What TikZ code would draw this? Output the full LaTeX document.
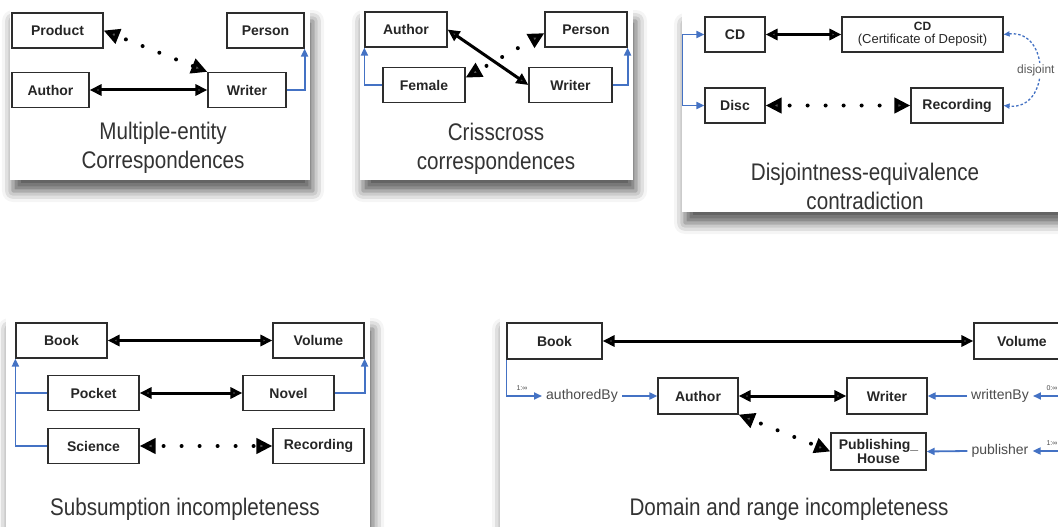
\documentclass[tikz,border=0pt]{standalone}
\usepackage{fontspec}
\setmainfont{Liberation Sans}
\newfontfamily\capfont{Liberation Sans}[FakeStretch=0.86]
\usetikzlibrary{arrows.meta, shadows.blur}
\definecolor{isablue}{RGB}{68,114,196}
\definecolor{rahmen}{RGB}{45,45,45}

\begin{document}
\begin{tikzpicture}[x=1pt, y=-1pt,
		>={Triangle[length=12pt, width=11pt]},   %Pfeilspitzen
		box/.style={draw=rahmen, line width=1.2pt, fill=white, minimum height=35pt, inner sep=2pt, text=black!85, font=\fontsize{14}{14}\selectfont\bfseries},
		equi/.style={<->, line width=3pt},
		dots/.style={{Triangle[length=16pt, width=15pt]}-{Triangle[length=16pt, width=15pt]}, line width=4pt, line cap=round, dash pattern=on 0pt off 18pt, dash phase=9pt},
		isa/.style={-{Triangle[length=8pt, width=7pt]}, draw=isablue, line width=1.8pt},
		prop/.style={inner sep=4pt, text=black!70, font=\fontsize{14}{16}\selectfont},
		card/.style={fill=white, blur shadow={shadow xshift=3pt, shadow yshift=-11pt, shadow blur radius=11pt, shadow opacity=65}},
		mult/.style={inner sep=0pt, text=black!70, font=\fontsize{7}{8}\selectfont},
		titel/.style={align=center, text=black!80, font=\capfont\fontsize{24}{29}\selectfont}]
		\useasboundingbox (0,0) rectangle (1058,527);
		%Karten
		\fill[card] (10,10) rectangle (310,180);
		\fill[card] (360,10) rectangle (633,180);
		\fill[card] (682,13) rectangle (1080,212);
		\fill[card] (6,318) rectangle (370,545);
		\fill[card] (500,318) rectangle (1080,545);
		% Multiple-entity
		\node[box, minimum width=91pt] (prod1) at (57.5,30.5) {Product};
		\node[box, minimum width=77pt] (pers1) at (265.5,30.5) {Person};
		\node[box, minimum width=77pt] (auth1) at (50.5,90) {Author};
		\node[box, minimum width=78pt] (writ1) at (247,90) {Writer};
		\draw[equi] (auth1) -- (writ1);
		\draw[dots] (prod1.east) -- (writ1.north west);
		\draw[isa] (writ1.east) -| (pers1.south east);
		\node[titel] (cap1) at (163,148) {Multiple-entity\\Correspondences};
		% Crisscross
		\node[box, minimum width=82pt] (auth2) at (406,29.5) {Author};
		\node[box, minimum width=82pt] (pers2) at (586,29.5) {Person};
		\node[box, minimum width=82pt] (fem2) at (424,85) {Female};
		\node[box, minimum width=83pt] (writ2) at (570.5,85) {Writer};
		\draw[equi] (auth2.east) -- (writ2.west);
		\draw[dots] (fem2.10) -- (pers2.185);
		\draw[isa] (fem2.west) -| (auth2.south west);
		\draw[isa] (writ2.east) -| (pers2.south east);
		\node[titel] (cap2) at (496,149) {Crisscross\\correspondences};
		% Disjointness-equivalence
		\node[box, minimum width=60pt] (cd3) at (735,34.5) {CD};
		\node[box, minimum width=161pt, align=center] (cdd3) at (922.5,34.5) {\fontsize{12}{12}\selectfont CD\\[-1pt]{\fontsize{13}{13}\selectfont\mdseries (Certificate of Deposit)}};
		\node[box, minimum width=60pt] (disc3) at (735,105.5) {Disc};
		\node[box, minimum width=92pt] (rec3) at (957,105.5) {Recording};
		\draw[equi] (cd3) -- (cdd3);
		\draw[dots] (disc3) -- (rec3);
		\draw[isa, {Triangle[length=8pt, width=7pt]}-{Triangle[length=8pt, width=7pt]}] (cd3.west) -- ++(-22,0) |- (disc3.west);
		\draw[isablue, line width=1.3pt, dash pattern=on 2.5pt off 2pt, {Triangle[length=6pt, width=5pt]}-{Triangle[length=6pt, width=5pt]}]
			(cdd3.east) .. controls +(47,-5) and +(47,5) .. (rec3.east) node[midway, fill=white, inner sep=1pt, xshift=-3pt, text=black!65, font=\fontsize{12}{12}\selectfont] (disj) {disjoint};
		\node[titel] (cap3) at (865,186.5) {Disjointness-equivalence\\contradiction};
		% Subsumption
		\node[box, minimum width=91pt] (book4) at (61.5,340.5) {Book};
		\node[box, minimum width=91pt] (vol4) at (318.5,340.5) {Volume};
		\node[box, minimum width=91pt] (pock4) at (93.5,393) {Pocket};
		\node[box, minimum width=91pt] (nov4) at (288.5,393) {Novel};
		\node[box, minimum width=91pt] (sci4) at (93.5,446) {Science};
		\node[box, minimum width=91pt] (rec4) at (318.5,446) {Recording};
		\draw[equi] (book4) -- (vol4);
		\draw[equi] (pock4) -- (nov4);
		\draw[dots] (sci4) -- (rec4);
		\draw[isa] (sci4.west) -| (book4.south west);
		\draw[isablue, line width=1.8pt] (pock4.west) -- (pock4.west -| book4.west);
		\draw[isa] (nov4.east) -| (vol4.south east);
		\node[titel] (cap4) at (185,509) {Subsumption incompleteness};
		% Domain and range
		\node[box, minimum width=95pt, minimum height=36pt] (book5) at (554.5,341) {Book};
		\node[box, minimum width=96pt, minimum height=36pt] (vol5) at (1022,341) {Volume};
		\node[box, minimum width=80pt, minimum height=36pt] (auth5) at (698,396) {Author};
		\node[box, minimum width=80pt, minimum height=36pt] (writ5) at (887,396) {Writer};
		\node[box, minimum width=95pt, minimum height=37pt, align=center] (pub5) at (878.5,451.5) {Publishing\_\\House};
		\node[prop] (autby) at (582,396) {authoredBy};
		\node[prop] (wrby) at (1000,396) {writtenBy};
		\node[prop] (publ) at (1000,451) {publisher};
		\draw[equi] (book5) -- (vol5);
		\draw[equi] (auth5) -- (writ5);
		\draw[dots] (auth5.south east) -- (pub5.west);
		\draw[isa] (book5.south west) |- (autby.west);
		\draw[isa] (autby.east) -- (auth5.west);
		\draw[isa] (vol5.south east) |- (wrby.east);
		\draw[isa] (wrby.west) -- (writ5.east);
		\draw[isa] (vol5.south east) |- (publ.east);
		\draw[isa] (publ.west) -- (pub5.east);
		\node[mult] (m1) at (522,388) {1:∞};
		\node[mult] (m2) at (1052,388) {0:∞};
		\node[mult] (m3) at (1052,443) {1:∞};
		\node[titel] (cap5) at (789,509) {Domain and range incompleteness};
	\end{tikzpicture}
\end{document}
